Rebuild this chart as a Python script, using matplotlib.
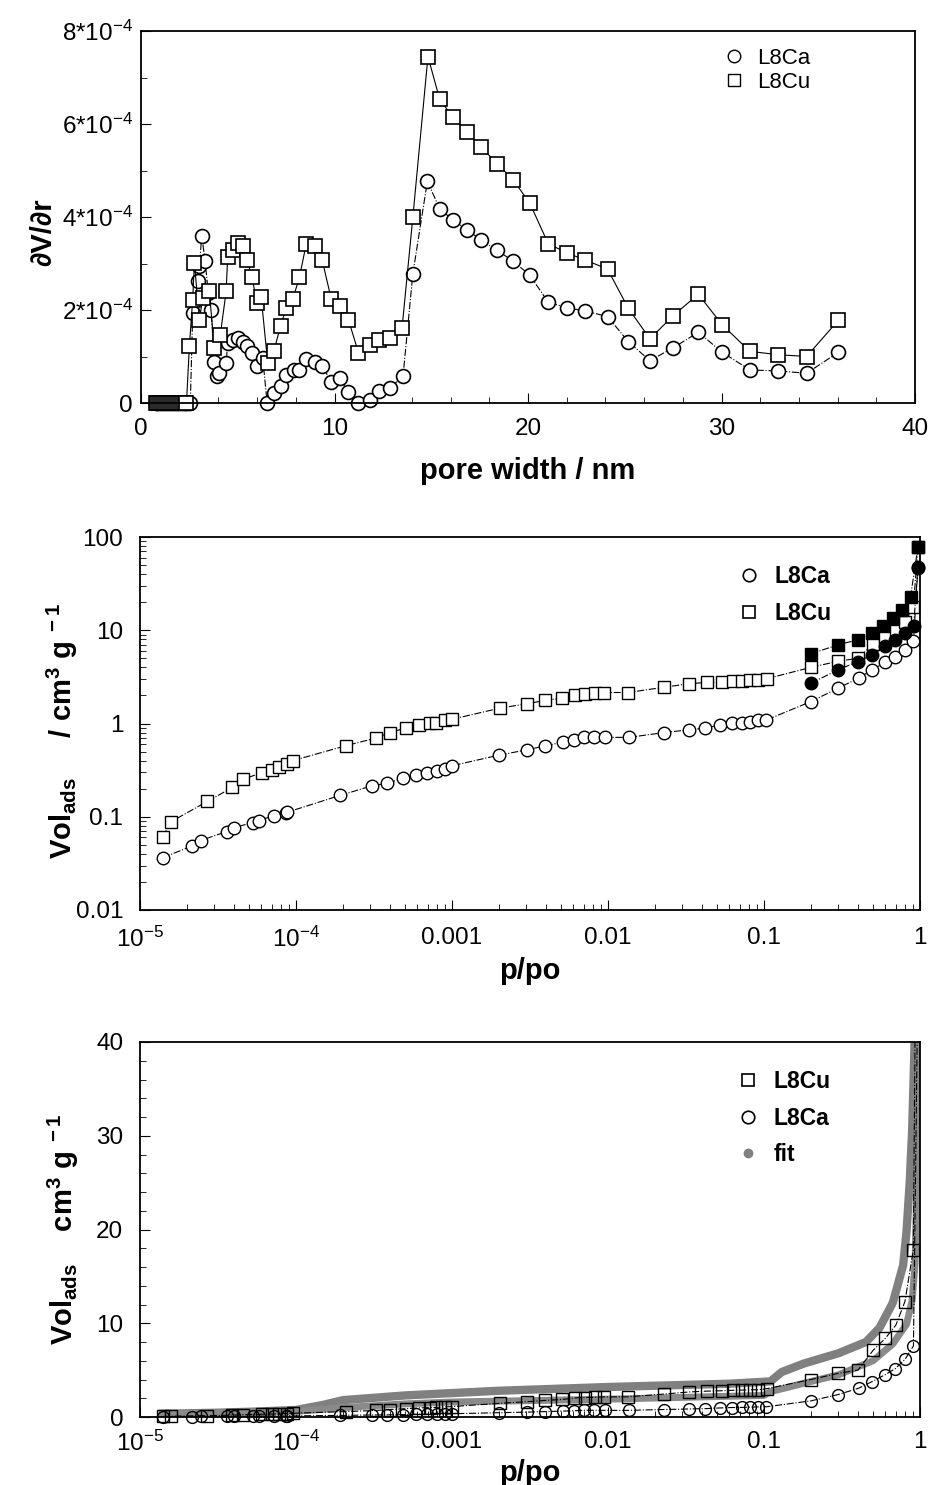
import matplotlib
matplotlib.use("Agg")
import matplotlib.pyplot as plt
from matplotlib.lines import Line2D
import matplotlib.ticker as mticker
import numpy as np

plt.rcParams.update({
    "font.family": ["Liberation Sans", "DejaVu Sans"],
    "mathtext.fontset": "custom",
    "mathtext.rm": "Liberation Sans",
    "mathtext.it": "Liberation Sans:italic",
    "mathtext.bf": "Liberation Sans:bold",
    "axes.linewidth": 1.3,
    "xtick.direction": "in",
    "ytick.direction": "in",
    "xtick.major.size": 7,
    "ytick.major.size": 7,
    "xtick.minor.size": 4,
    "ytick.minor.size": 4,
    "xtick.labelsize": 17.5,
    "ytick.labelsize": 17.5,
})

# --- top panel: pore size distribution (dV/dr in units of 1e-4) ---------
ca_width = [0.75, 0.85, 0.95, 1.05, 1.15, 1.25, 1.35, 1.45,
            1.55, 1.65, 1.75, 1.85, 1.95, 2.05, 2.15, 2.25, 2.35, 2.45, 2.55,
            2.67, 2.93, 3.02, 3.14, 3.31, 3.48, 3.62, 3.79, 3.93, 4.05, 4.40,
            4.48, 4.74, 5.00, 5.26, 5.48, 5.73, 6.00, 6.29, 6.52, 6.86, 7.21,
            7.50, 7.90, 8.19, 8.54, 8.97, 9.36, 9.83, 10.26, 10.72, 11.21,
            11.81, 12.28, 12.85, 13.54, 14.05, 14.80, 15.43, 16.13, 16.85,
            17.59, 18.42, 19.23, 20.09, 21.04, 21.99, 22.93, 24.11, 25.18,
            26.30, 27.51, 28.80, 30.04, 31.47, 32.90, 34.40, 36.04]
ca_dvdr = [0, 0, 0, 0, 0, 0, 0, 0,
           0, 0, 0, 0, 0, 0, 0, 0, 0, 0, 0,
           1.94, 2.62, 2.94, 3.60, 3.06, 2.37, 2.01, 0.89, 0.57, 0.65, 0.86,
           1.29, 1.36, 1.40, 1.32, 1.22, 1.08, 0.79, 0.97, 0.0, 0.22, 0.37,
           0.61, 0.72, 0.72, 0.95, 0.89, 0.79, 0.46, 0.54, 0.23, 0.0,
           0.07, 0.25, 0.32, 0.57, 2.78, 4.77, 4.18, 3.93, 3.73,
           3.50, 3.28, 3.05, 2.75, 2.17, 2.05, 1.98, 1.86, 1.32,
           0.91, 1.19, 1.52, 1.09, 0.71, 0.69, 0.64, 1.09]

cu_width = [0.75, 0.85, 0.95, 1.05, 1.15, 1.25, 1.35, 1.45,
            1.55, 1.65, 1.75, 1.85, 1.95, 2.05, 2.15, 2.25, 2.35,
            2.50, 2.67, 2.76, 3.02, 3.19, 3.53, 3.79, 4.10, 4.40, 4.48, 4.74,
            5.00, 5.26, 5.48, 5.73, 6.00, 6.21, 6.55, 6.86, 7.21, 7.50, 7.85,
            8.19, 8.54, 8.97, 9.36, 9.83, 10.26, 10.72, 11.24, 11.81, 12.28,
            12.85, 13.49, 14.05, 14.83, 15.43, 16.12, 16.85, 17.59, 18.42,
            19.23, 20.09, 21.04, 21.99, 22.93, 24.11, 25.18, 26.30, 27.51,
            28.80, 30.04, 31.47, 32.90, 34.40, 36.04]
cu_dvdr = [0, 0, 0, 0, 0, 0, 0, 0,
           0, 0, 0, 0, 0, 0, 0, 0, 0,
           1.22, 2.22, 3.01, 1.79, 2.26, 2.40, 1.18, 1.47, 2.40, 3.15, 3.30,
           3.45, 3.38, 3.08, 2.71, 2.15, 2.28, 0.86, 1.11, 1.65, 2.04, 2.24,
           2.71, 3.42, 3.38, 3.08, 2.24, 2.09, 1.79, 1.08, 1.25, 1.36,
           1.40, 1.61, 4.00, 7.45, 6.54, 6.14, 5.82, 5.50, 5.14,
           4.80, 4.30, 3.43, 3.23, 3.08, 2.88, 2.04, 1.38, 1.88,
           2.34, 1.68, 1.11, 1.04, 1.00, 1.78]

psd_yticks = [0, 2e-4, 4e-4, 6e-4, 8e-4]
psd_yticklabels = ["0", "2*10$^{-4}$", "4*10$^{-4}$", "6*10$^{-4}$", "8*10$^{-4}$"]

# --- isotherms (adsorption branch, cm3/g) --------------------------------
ca_p = [1.40e-5, 2.17e-5, 2.45e-5, 3.59e-5, 4.0e-5, 5.32e-5, 5.78e-5, 7.21e-5,
        8.57e-5, 8.8e-5, 1.91e-4, 3.08e-4, 3.85e-4, 4.87e-4, 5.92e-4, 6.87e-4,
        7.96e-4, 8.96e-4, 1.0e-3, 2.0e-3, 3.03e-3, 3.97e-3, 5.15e-3, 6.09e-3,
        7.06e-3, 8.18e-3, 9.62e-3, 0.0136, 0.023, 0.0329, 0.042, 0.0525,
        0.0623, 0.0722, 0.0817, 0.092, 0.1035, 0.2, 0.30, 0.404, 0.492, 0.599,
        0.694, 0.804, 0.908, 0.97]
ca_vol = [0.0365, 0.0487, 0.0556, 0.0694, 0.0766, 0.0867, 0.091, 0.103,
          0.109, 0.112, 0.169, 0.215, 0.229, 0.259, 0.282, 0.298,
          0.313, 0.324, 0.352, 0.458, 0.522, 0.577, 0.631, 0.668,
          0.714, 0.72, 0.71, 0.71, 0.80, 0.855, 0.893, 0.968,
          1.01, 1.02, 1.05, 1.08, 1.09, 1.72, 2.40, 3.07, 3.77, 4.52,
          5.16, 6.18, 7.59, 47.0]

cu_p = [1.40e-5, 1.59e-5, 2.70e-5, 3.91e-5, 4.59e-5, 6.08e-5, 7.05e-5, 7.77e-5,
        8.7e-5, 9.6e-5, 2.08e-4, 3.24e-4, 4.0e-4, 5.04e-4, 6.13e-4, 7.28e-4,
        7.9e-4, 9.08e-4, 1.0e-3, 2.02e-3, 3.03e-3, 3.97e-3, 5.08e-3, 6.1e-3,
        7.1e-3, 8.2e-3, 9.4e-3, 0.0134, 0.023, 0.0331, 0.0431, 0.0536,
        0.0633, 0.072, 0.081, 0.092, 0.104, 0.2, 0.3, 0.4, 0.5, 0.6,
        0.7, 0.8, 0.906, 0.97]
cu_vol = [0.0614, 0.0889, 0.146, 0.206, 0.253, 0.298, 0.318, 0.340,
          0.370, 0.401, 0.577, 0.697, 0.80, 0.893, 0.968, 1.01,
          1.02, 1.08, 1.11, 1.46, 1.63, 1.77, 1.87, 2.03,
          2.08, 2.10, 2.15, 2.15, 2.45, 2.67, 2.76, 2.80,
          2.85, 2.87, 2.90, 2.90, 3.02, 4.0, 4.66, 5.0, 7.1, 8.4,
          9.8, 12.3, 17.8, 78.0]

# desorption branch (filled symbols)
ca_des_p = [0.2, 0.3, 0.4, 0.49, 0.6, 0.69, 0.8, 0.91, 0.97]
ca_des_vol = [2.71, 3.77, 4.62, 5.4, 6.7, 7.9, 9.3, 11.0, 48.0]
cu_des_p = [0.2, 0.3, 0.4, 0.49, 0.58, 0.67, 0.77, 0.87, 0.97]
cu_des_vol = [5.6, 7.0, 7.9, 9.3, 11.0, 13.5, 16.6, 23.0, 78.0]

# fit curves (bottom panel)
fit_hi_p = [1.4e-5, 3e-5, 6e-5, 1e-4, 1.5e-4, 2e-4, 5e-4, 2e-3, 0.01, 0.06,
            0.11, 0.13, 0.18, 0.3, 0.45, 0.55, 0.67, 0.78, 0.82, 0.86, 0.89,
            0.91, 0.93]
fit_hi_vol = [0.35, 0.45, 0.6, 0.75, 1.3, 1.8, 2.3, 2.8, 3.2, 3.55,
              3.8, 4.8, 5.7, 6.8, 8.0, 9.5, 12.2, 16.2, 19.8, 25.2, 30.5,
              36.0, 42.0]
fit_lo_p = [1.4e-5, 3e-5, 6e-5, 1e-4, 2e-4, 5e-4, 1e-3, 0.01, 0.1, 0.11,
            0.18, 0.3, 0.5, 0.67, 0.82, 0.89, 0.93, 0.95, 0.97, 0.98]
fit_lo_vol = [0.3, 0.4, 0.5, 0.6, 1.0, 1.4, 1.6, 1.9, 2.3, 2.7,
              3.6, 4.5, 6.0, 7.8, 9.9, 12.4, 16.4, 23.5, 31.0, 42.0]

log_xticks = [1e-5, 1e-4, 1e-3, 1e-2, 1e-1, 1]
log_xticklabels = ["10$^{-5}$", "10$^{-4}$", "0.001", "0.01", "0.1", "1"]
log_yticks = [0.01, 0.1, 1, 10, 100]
log_yticklabels = ["0.01", "0.1", "1", "10", "100"]

W, H = 936, 1485
fig = plt.figure(figsize=(W / 100, H / 100), dpi=100)


def frac(left, top, right, bottom):
    return [left / W, 1 - bottom / H, (right - left) / W, (bottom - top) / H]


ax1 = fig.add_axes(frac(141, 31, 915, 403))
ax2 = fig.add_axes(frac(140, 537, 920, 910))
ax3 = fig.add_axes(frac(140, 1042, 920, 1417))

BOLD = {"fontweight": "bold"}

# ---- top panel ----------------------------------------------------------
sq = dict(marker="s", mfc="white", mec="black", mew=1.2, ms=10, color="black")
ci = dict(marker="o", mfc="white", mec="black", mew=1.2, ms=10, color="black")
ax1.plot(ca_width, np.array(ca_dvdr) * 1e-4, ls="-.", lw=0.8, clip_on=False, **ci)
ax1.plot(cu_width, np.array(cu_dvdr) * 1e-4, ls="-", lw=0.8, clip_on=False, **sq)
ax1.set_xlim(0, 40)
ax1.set_ylim(0, 8e-4)
ax1.set_xticks([0, 10, 20, 30, 40])
ax1.xaxis.set_minor_locator(mticker.MultipleLocator(2))
ax1.set_yticks(psd_yticks)
ax1.set_yticklabels(psd_yticklabels)
ax1.yaxis.set_minor_locator(mticker.MultipleLocator(1e-4))
ax1.tick_params(axis="x", which="major", pad=11)
ax1.tick_params(axis="y", which="major", pad=6)
ax1.set_xlabel("pore width / nm", fontsize=21, labelpad=12, **BOLD)
ax1.set_ylabel("\u2202V/\u2202r", fontsize=21, **BOLD)
ax1.yaxis.set_label_coords(-0.108, 0.46)
h1 = [Line2D([], [], ls="none", marker="o", mfc="white", mec="black", ms=9, mew=1.0),
      Line2D([], [], ls="none", marker="s", mfc="white", mec="black", ms=9, mew=1.0)]
ax1.legend(h1, ["L8Ca", "L8Cu"], loc="upper left", bbox_to_anchor=(0.738, 0.985),
           frameon=False, fontsize=16, handlelength=1.0, handletextpad=0.5,
           borderpad=0, labelspacing=0.15)

# ---- middle panel -------------------------------------------------------
sq2 = dict(marker="s", mfc="white", mec="black", mew=1.0, ms=9, color="black")
ci2 = dict(marker="o", mfc="white", mec="black", mew=1.0, ms=9, color="black")
ax2.plot(ca_p, ca_vol, ls="-.", lw=0.8, clip_on=False, **ci2)
ax2.plot(cu_p, cu_vol, ls="-.", lw=0.8, clip_on=False, **sq2)
ax2.plot(ca_des_p, ca_des_vol, ls="-.", lw=0.8, marker="o", ms=9, mfc="black",
         mec="black", color="black", clip_on=False)
ax2.plot(cu_des_p, cu_des_vol, ls="-.", lw=0.8, marker="s", ms=9, mfc="black",
         mec="black", color="black", clip_on=False)
ax2.set_xscale("log")
ax2.set_yscale("log")
ax2.set_xlim(1e-5, 1)
ax2.set_ylim(0.01, 100)
ax2.set_xticks(log_xticks)
ax2.set_xticklabels(log_xticklabels)
ax2.set_yticks(log_yticks)
ax2.set_yticklabels(log_yticklabels)
ax2.xaxis.set_minor_locator(mticker.LogLocator(base=10, subs=range(2, 10), numticks=20))
ax2.yaxis.set_minor_locator(mticker.LogLocator(base=10, subs=range(2, 10), numticks=20))
ax2.xaxis.set_minor_formatter(mticker.NullFormatter())
ax2.yaxis.set_minor_formatter(mticker.NullFormatter())
ax2.tick_params(axis="x", which="major", pad=12)
ax2.tick_params(axis="y", which="major", pad=12)
ax2.set_xlabel("p/po", fontsize=21, labelpad=4, **BOLD)
ax2.set_ylabel(r"$\mathbf{Vol_{ads}\ \ \ \ \ /\ cm^{3}\ g^{\ -1}}$", fontsize=21)
ax2.yaxis.set_label_coords(-0.077, 0.48)
h2 = [Line2D([], [], ls="none", marker="o", mfc="white", mec="black", ms=9, mew=1.2),
      Line2D([], [], ls="none", marker="s", mfc="white", mec="black", ms=9, mew=1.2)]
ax2.legend(h2, ["L8Ca", "L8Cu"], loc="upper left", bbox_to_anchor=(0.752, 0.956),
           frameon=False, prop={"size": 16.5, "weight": "bold"}, handlelength=1.0,
           handletextpad=0.6, borderpad=0, labelspacing=0.6)

# ---- bottom panel -------------------------------------------------------
ax3.plot(fit_hi_p, fit_hi_vol, ls="-", lw=6, color="#808080", zorder=2)
ax3.plot(fit_lo_p, fit_lo_vol, ls="-", lw=5, color="#8a8a8a", zorder=2)
for p, v, mk in ((cu_p, cu_vol, "s"), (ca_p, ca_vol, "o")):
    p = np.array(p)
    v = np.array(v)
    ax3.plot(p, v, ls="-.", lw=0.8, color="black", zorder=3)
    inside = v <= 40
    ax3.plot(p[inside], v[inside], ls="none", marker=mk, mfc="none", mec="black",
             mew=1.0, ms=8.5, zorder=3, clip_on=False)
ax3.set_xscale("log")
ax3.set_xlim(1e-5, 1)
ax3.set_ylim(0, 40)
ax3.set_xticks(log_xticks)
ax3.set_xticklabels(log_xticklabels)
ax3.xaxis.set_minor_locator(mticker.LogLocator(base=10, subs=range(2, 10), numticks=20))
ax3.xaxis.set_minor_formatter(mticker.NullFormatter())
ax3.set_yticks([0, 10, 20, 30, 40])
ax3.yaxis.set_minor_locator(mticker.MultipleLocator(2))
ax3.tick_params(axis="x", which="major", pad=10)
ax3.tick_params(axis="y", which="major", pad=12)
ax3.set_xlabel("p/po", fontsize=21, labelpad=2, **BOLD)
ax3.set_ylabel(r"$\mathbf{Vol_{ads}\ \ \ \ cm^{3}\ g^{\ -1}}$", fontsize=21)
ax3.yaxis.set_label_coords(-0.076, 0.5)
h3 = [Line2D([], [], ls="none", marker="s", mfc="white", mec="black", ms=9, mew=1.2),
      Line2D([], [], ls="none", marker="o", mfc="white", mec="black", ms=9, mew=1.2),
      Line2D([], [], ls="none", marker="o", mfc="#808080", mec="#808080", ms=6)]
ax3.legend(h3, ["L8Cu", "L8Ca", "fit"], loc="upper left", bbox_to_anchor=(0.75, 0.956),
           frameon=False, prop={"size": 16.5, "weight": "bold"}, handlelength=1.0,
           handletextpad=0.6, borderpad=0, labelspacing=0.6)

for ax in (ax1, ax2, ax3):
    ax.tick_params(which="both", top=False, right=False)

fig.savefig("out.png", dpi=100)
